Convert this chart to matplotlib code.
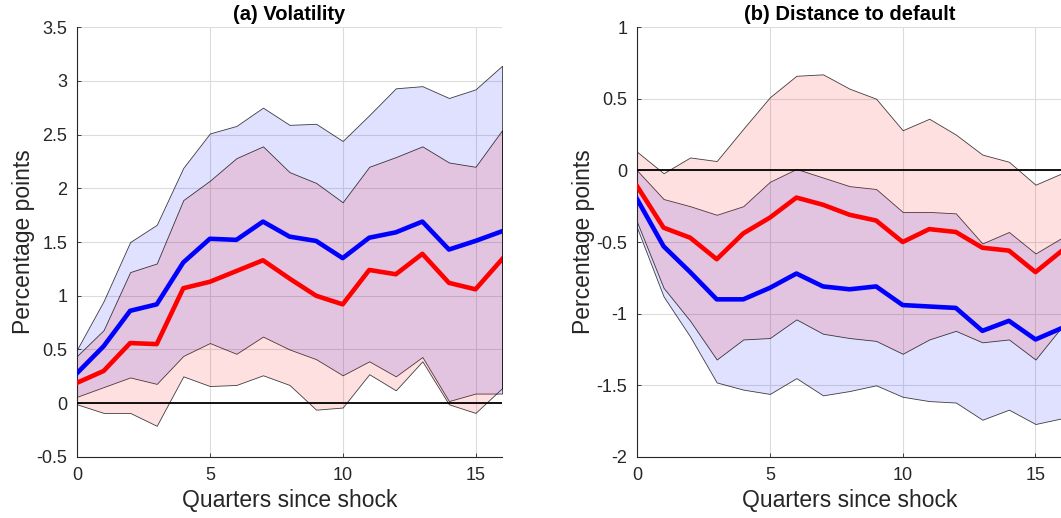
import numpy as np
import matplotlib
matplotlib.use("Agg")
import matplotlib.pyplot as plt
from matplotlib.ticker import FuncFormatter

plt.rcParams['font.family'] = ['Liberation Sans', 'DejaVu Sans']
plt.rcParams['axes.unicode_minus'] = False

quarters = np.arange(17)

# (a) volatility: medians and bands
vol_blue = [0.28, 0.53, 0.86, 0.92, 1.31, 1.53, 1.52, 1.69, 1.55, 1.51, 1.35,
            1.54, 1.59, 1.69, 1.43, 1.51, 1.60]
vol_blue_hi = [0.50, 0.95, 1.50, 1.66, 2.19, 2.51, 2.58, 2.75, 2.59, 2.60, 2.44,
               2.68, 2.93, 2.95, 2.84, 2.92, 3.14]
vol_blue_lo = [0.06, 0.15, 0.24, 0.18, 0.44, 0.56, 0.46, 0.62, 0.50, 0.41, 0.26,
               0.39, 0.25, 0.43, 0.02, 0.09, 0.09]
vol_red = [0.19, 0.30, 0.56, 0.55, 1.07, 1.13, 1.23, 1.33, 1.16, 1.00, 0.92,
           1.24, 1.20, 1.39, 1.12, 1.06, 1.34]
vol_red_hi = [0.44, 0.68, 1.22, 1.30, 1.89, 2.07, 2.28, 2.39, 2.15, 2.05, 1.87,
              2.20, 2.29, 2.39, 2.24, 2.20, 2.54]
vol_red_lo = [-0.01, -0.09, -0.09, -0.21, 0.25, 0.16, 0.17, 0.26, 0.17, -0.06, -0.04,
              0.27, 0.12, 0.39, -0.01, -0.09, 0.14]

# (b) distance to default
dd_blue = [-0.20, -0.53, -0.71, -0.90, -0.90, -0.82, -0.72, -0.81, -0.83, -0.81, -0.94,
           -0.95, -0.96, -1.12, -1.05, -1.18, -1.10]
dd_blue_hi = [0.00, -0.20, -0.25, -0.31, -0.25, -0.08, 0.01, -0.05, -0.11, -0.13, -0.29,
              -0.29, -0.30, -0.51, -0.43, -0.58, -0.47]
dd_blue_lo = [-0.40, -0.88, -1.16, -1.48, -1.53, -1.56, -1.45, -1.57, -1.54, -1.50, -1.58,
              -1.61, -1.62, -1.74, -1.67, -1.77, -1.73]
dd_red = [-0.11, -0.40, -0.47, -0.62, -0.44, -0.33, -0.19, -0.24, -0.31, -0.35, -0.50,
          -0.41, -0.43, -0.54, -0.56, -0.71, -0.56]
dd_red_hi = [0.13, -0.02, 0.09, 0.065, 0.29, 0.51, 0.66, 0.67, 0.57, 0.50, 0.28,
             0.36, 0.25, 0.11, 0.06, -0.10, -0.02]
dd_red_lo = [-0.36, -0.82, -1.05, -1.32, -1.18, -1.17, -1.04, -1.14, -1.17, -1.19, -1.28,
             -1.18, -1.12, -1.20, -1.18, -1.32, -1.09]

panels = [
    ("(a) Volatility", vol_blue, vol_blue_lo, vol_blue_hi, vol_red, vol_red_lo, vol_red_hi,
     (-0.5, 3.5)),
    ("(b) Distance to default", dd_blue, dd_blue_lo, dd_blue_hi, dd_red, dd_red_lo, dd_red_hi,
     (-2, 1)),
]

fig = plt.figure(figsize=(10.61, 5.18), dpi=100)
rects = [[0.0726, 0.1178, 0.4006, 0.830], [0.6004, 0.1178, 0.4006, 0.830]]

for rect, (title, b, blo, bhi, r, rlo, rhi, ylim) in zip(rects, panels):
    ax = fig.add_axes(rect)
    ax.fill_between(quarters, blo, bhi, facecolor=(0, 0, 1, 0.12),
                    edgecolor=(0, 0, 0, 0.75), linewidth=0.6, zorder=2)
    ax.fill_between(quarters, rlo, rhi, facecolor=(1, 0, 0, 0.12),
                    edgecolor=(0, 0, 0, 0.75), linewidth=0.6, zorder=2)
    ax.axhline(0, color='k', linewidth=1.3, zorder=3)
    ax.plot(quarters, b, color=(0, 0, 1), linewidth=3.3, zorder=4)
    ax.plot(quarters, r, color=(1, 0, 0), linewidth=3.3, zorder=4)

    ax.set_xlim(0, 16)
    ax.set_ylim(*ylim)
    ax.set_xticks([0, 5, 10, 15])
    ax.set_yticks(np.arange(ylim[0], ylim[1] + 0.01, 0.5))
    ax.yaxis.set_major_formatter(FuncFormatter(lambda v, p: '%g' % v))
    ax.grid(True, color='#dcdcdc', linewidth=0.8, zorder=0)
    ax.set_axisbelow(True)
    for side in ['top', 'right']:
        ax.spines[side].set_visible(False)
    for side in ['left', 'bottom']:
        ax.spines[side].set_color('#262626')
        ax.spines[side].set_linewidth(0.8)
    ax.tick_params(direction='in', length=3, width=0.6, labelsize=13, pad=7,
                   colors='#262626')
    ax.set_title(title, fontsize=14.5, fontweight='bold', pad=5)
    ax.set_xlabel("Quarters since shock", fontsize=16.5, labelpad=4, color='#262626')
    ax.set_ylabel("Percentage points", fontsize=16.5, labelpad=1, color='#262626')

fig.savefig("out.png", dpi=100)
